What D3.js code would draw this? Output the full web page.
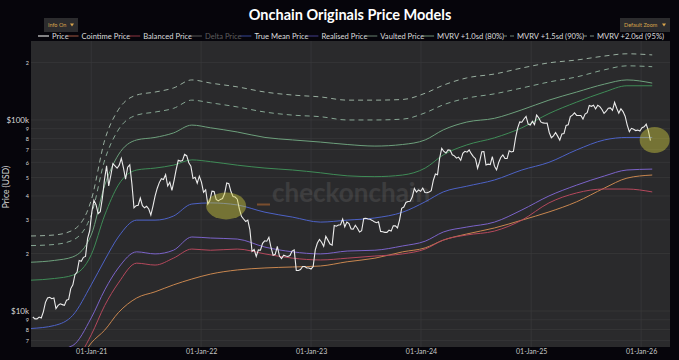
<!DOCTYPE html>
<html><head><meta charset="utf-8">
<script src="https://cdn.jsdelivr.net/npm/d3@7"></script>
<style>
html,body{margin:0;padding:0;background:#06050b;}
svg{display:block;font-family:Lato,"Open Sans",sans-serif;}
</style></head><body>
<svg id="chart" width="679" height="360"></svg>
<script>
// ---------- DATA ----------
const priceStart = "2020-06-21"; // weekly closes from this date
const priceValues = [
 9300,9100,9100,9300,9200,9900,11100,11700,11800,11600,11700,10300,10700,10900,10800,10700,11400,11500,13100,13700,15500,16000,18400,18200,19100,19300,24000,26300,
 33000,38000,36000,32300,33100,39000,48700,57500,45200,51200,59000,57500,55900,58000,63000,56200,49000,56600,58200,46400,34700,35600,35800,39000,35600,34700,35300,34200,31800,35400,39900,43800,47000,49300,48800,51700,45100,47200,42800,48200,54900,61500,60900,61300,66000,65000,59700,57200,49400,50100,46700,50800,
 47300,41800,43100,36300,37900,42400,42200,38400,37700,38400,38800,41200,46800,46400,42200,39700,39500,38500,34100,31300,30300,29400,29900,26600,20500,21000,19300,20900,20800,22600,23300,23200,24300,21500,19600,19800,21800,19400,18800,19600,19400,19300,19500,20600,20900,16300,16300,16500,17100,17100,16800,16800,
 16600,17100,20900,22700,23700,22900,21800,24600,23500,22400,22100,28000,27800,28200,28300,30300,27600,29200,28700,26900,26800,28100,27100,25900,26300,30500,30600,30300,30200,29800,29300,29000,29300,26100,26000,25800,25800,26500,26200,27900,27900,27200,30000,34500,35000,37000,37400,37500,39500,43800,41900,43000,42300,
 44000,41700,41600,42000,42600,48300,52100,51700,63100,71000,68400,67200,69700,69400,65700,64900,63100,63900,61500,66900,68500,67800,69600,66600,64300,62700,55900,60800,68200,68300,58100,58700,58400,64200,57300,54800,59900,63600,65600,62800,62800,69000,68000,68500,80400,90600,97700,97300,101200,104400,95200,94000,
 98300,94500,106100,102700,97700,96500,96100,96300,86000,80700,82600,86000,82300,78400,84500,85000,93700,94300,104100,106000,109000,105700,105600,105500,101000,107300,109200,119100,117900,119400,114200,119300,117500,113500,108200,111100,115300,115700,112200,123500,115200,108600,114500,110600,104700,94000,86800,90400,89400,88000,88500,87500,
 91000,92000,95000,88000,78000
];

const modelDates = ["2020-06-15","2020-09-01","2020-11-01","2021-01-01","2021-02-15","2021-04-01","2021-06-01","2021-08-01","2021-10-01","2021-12-01","2022-02-01","2022-05-01","2022-08-01","2022-11-01","2023-02-01","2023-05-01","2023-08-01","2023-11-01","2024-01-15","2024-03-15","2024-06-01","2024-09-01","2024-12-01","2025-03-01","2025-06-01","2025-09-01","2025-11-15","2026-02-07"];
const cointimePrice = [3500,4000,4800,6800,7950,9800,11700,12600,13700,14700,15600,16400,16800,17000,17200,18100,18900,20400,21400,23500,25300,27200,29900,33000,37300,44000,49600,51500];
const balancedPrice = [4000,4500,5200,7500,10700,14000,17800,17400,18900,21100,20800,21100,19900,18900,18500,18900,19400,19900,21100,23500,25000,26200,29900,36800,41500,43500,43500,42000];
const trueMeanPrice = [8100,8400,9500,13700,18500,24400,29900,29900,31400,36300,36800,35900,32900,31000,29200,29900,30700,32900,37300,42000,45000,48500,54700,60000,69700,78600,81000,81000];
const realisedPrice = [5900,6200,6600,9200,12900,16800,20400,19900,20800,24400,24100,23800,21600,20400,19900,20600,20800,21900,23200,25900,27500,29200,33800,40000,45600,50900,54700,55300];
const vaultedPrice = [14500,14800,15400,19700,31800,45600,54700,56000,58000,61800,60500,58000,56000,54700,52900,51000,50500,51500,56000,65600,74000,80600,91000,108000,124000,140000,151000,151000];
const mvrv10 = [18000,18400,19200,25000,45600,65600,78600,81000,85500,94000,91000,86500,81000,78600,76600,74400,73000,74400,78600,88700,97500,102000,113000,127000,140000,154000,162000,156000];
const mvrv15 = [22000,22300,23500,31800,61800,88700,106000,110000,115000,127000,123000,117000,110000,106000,104000,100000,100000,101000,109000,120000,130000,137000,147000,158000,168000,183000,192000,190000];
const mvrv20 = [24700,25000,26500,38000,78600,113000,135000,140000,147000,162000,156000,149000,140000,135000,132000,127000,127000,128000,138000,152000,166000,174000,187000,199000,206000,216000,222000,219000];

const legendNames = ["Price","Cointime Price","Balanced Price","Delta Price","True Mean Price","Realised Price","Vaulted Price","MVRV +1.0sd (80%)","MVRV +1.5sd (90%)","MVRV +2.0sd (95%)"];
const xTickDates = ["2021-01-01","2022-01-01","2023-01-01","2024-01-01","2025-01-01","2026-01-01"];
const yTickValues = [7000,8000,9000,10000,20000,30000,40000,50000,60000,70000,80000,90000,100000,200000];
const yTickLabels = ["7","8","9","$10k","2","3","4","5","6","7","8","9","$100k","2"];
const highlightDates = ["2022-03-25","2026-02-15"];
const highlightValues = [35500,78500];

// ---------- CHART ----------
const W = 679, H = 360;
const M = {left:31, right:670, top:41, bottom:347};
const svg = d3.select("#chart");
const parse = d3.utcParse("%Y-%m-%d");

const x = d3.scaleUtc().domain([Date.UTC(2020,5,15), Date.UTC(2026,3,7)]).range([M.left, M.right]);
const y = d3.scaleLog().domain([6480, 259000]).range([M.bottom, M.top]);

svg.append("rect").attr("width",W).attr("height",H).attr("fill","#06050b");
svg.append("rect").attr("x",M.left).attr("y",M.top).attr("width",M.right-M.left).attr("height",M.bottom-M.top).attr("fill","#2a2a2c");

svg.append("defs").append("clipPath").attr("id","clip")
  .append("rect").attr("x",M.left).attr("y",M.top).attr("width",M.right-M.left).attr("height",M.bottom-M.top);

// grid
const grid = svg.append("g");
grid.selectAll("line.h").data(yTickValues).join("line")
  .attr("x1",M.left).attr("x2",M.right).attr("y1",d=>y(d)).attr("y2",d=>y(d))
  .attr("stroke","#39393b").attr("stroke-width",0.7);
grid.selectAll("line.v").data(xTickDates.map(parse)).join("line")
  .attr("x1",d=>x(d)).attr("x2",d=>x(d)).attr("y1",M.top).attr("y2",M.bottom)
  .attr("stroke","#3a3a3c").attr("stroke-width",0.7);

// watermark
svg.append("text").attr("x",272).attr("y",202).text("checkonchain")
  .attr("font-size",26).attr("font-weight",700).attr("fill","#ffffff").attr("opacity",0.085);
svg.append("line").attr("x1",257).attr("x2",270).attr("y1",204.5).attr("y2",204.5)
  .attr("stroke","#7a4e2e").attr("stroke-width",2);

// axes
const yAxis = svg.append("g").attr("transform",`translate(${M.left},0)`)
  .call(d3.axisLeft(y).tickValues(yTickValues).tickFormat((d,i)=>yTickLabels[i]).tickSize(0).tickPadding(2));
yAxis.select(".domain").remove();
yAxis.selectAll("text").attr("fill","#d8d8d8")
  .attr("font-size",(d,i)=>yTickLabels[i].length>1?8:5.5)
  .attr("font-family","Lato, sans-serif");

const xAxis = svg.append("g").attr("transform",`translate(0,${M.bottom})`)
  .call(d3.axisBottom(x).tickValues(xTickDates.map(parse)).tickFormat(d3.utcFormat("%d-%b-%y")).tickSize(0).tickPadding(2.5));
xAxis.select(".domain").remove();
xAxis.selectAll("text").attr("fill","#c8c8c8").attr("font-size",7).attr("font-family","Lato, sans-serif");

svg.append("text").attr("transform","translate(9,187) rotate(-90)").attr("text-anchor","middle")
  .attr("font-size",8.5).attr("fill","#d8d8d8").text("Price (USD)");

// series
const md = modelDates.map(parse);
const models = [
  {vals:cointimePrice, color:"#c8864f", dash:null},
  {vals:balancedPrice, color:"#b5485c", dash:null},
  {vals:realisedPrice, color:"#7b63c9", dash:null},
  {vals:trueMeanPrice, color:"#4d62c6", dash:null},
  {vals:vaultedPrice, color:"#3f8c57", dash:null},
  {vals:mvrv10, color:"#6da07c", dash:null},
  {vals:mvrv15, color:"#86a693", dash:"5,4"},
  {vals:mvrv20, color:"#98ae9f", dash:"5,4"}
];
const plot = svg.append("g").attr("clip-path","url(#clip)");
const line = d3.line().x(d=>x(d[0])).y(d=>y(d[1])).curve(d3.curveMonotoneX);
models.forEach(m=>{
  plot.append("path").datum(md.map((d,i)=>[d,m.vals[i]]))
    .attr("d",line).attr("fill","none").attr("stroke",m.color).attr("stroke-width",1)
    .attr("stroke-dasharray",m.dash);
});
const p0 = parse(priceStart);
const priceData = priceValues.map((v,i)=>[d3.utcDay.offset(p0,7*i), v]);
plot.append("path").datum(priceData)
  .attr("d",d3.line().x(d=>x(d[0])).y(d=>y(d[1])))
  .attr("fill","none").attr("stroke","#ececec").attr("stroke-width",1.1);

// highlights
plot.selectAll("ellipse").data(highlightDates.map((d,i)=>[parse(d),highlightValues[i]])).join("ellipse")
  .attr("cx",d=>x(d[0])).attr("cy",d=>y(d[1]))
  .attr("rx",(d,i)=>i===0?20:15).attr("ry",(d,i)=>i===0?13.5:13)
  .attr("fill","#d0cc40").attr("opacity",0.45);

// title
svg.append("text").attr("x",350).attr("y",20).attr("text-anchor","middle")
  .attr("font-size",14.5).attr("font-weight",700).attr("fill","#ffffff")
  .text("Onchain Originals Price Models");

// buttons
function button(x0,w,label){
  svg.append("rect").attr("x",x0).attr("y",18).attr("width",w).attr("height",14).attr("fill","#2c2c2e");
  svg.append("text").attr("x",x0+4).attr("y",27).attr("font-size",5.5).attr("fill","#d8a44c").text(label);
  svg.append("path").attr("d",`M${x0+w-8},23.5 l4,0 l-2,3 z`).attr("fill","#d8a44c");
}
button(44,34,"Info On");
button(620,50,"Default Zoom");

// legend
const legColors = ["#d8d8d8","#8a4a3a","#7a2e3a","#4a4a4a","#2e3c80","#3a3478","#5a6e60","#5e7a66","#6e8676","#7e9486"];
const legDash = [null,null,null,null,null,null,null,null,"4,3","4,3"];
const leg = svg.append("g");
const items = leg.selectAll("g").data(legendNames).join("g");
items.append("line").attr("x1",0).attr("x2",11).attr("y1",36).attr("y2",36)
  .attr("stroke",(d,i)=>legColors[i]).attr("stroke-width",1.2).attr("stroke-dasharray",(d,i)=>legDash[i]);
items.append("text").attr("x",14).attr("y",36).attr("dy","0.35em").attr("font-size",7.6)
  .attr("fill",(d,i)=>i===3?"#5e5e5e":"#dcdcdc").text(d=>d);
const widths = items.nodes().map(n=>14 + n.querySelector("text").getComputedTextLength());
const total = d3.sum(widths);
const gap = (664 - 38 - total)/(legendNames.length-1);
let cx = 38;
items.each(function(d,i){ d3.select(this).attr("transform",`translate(${cx},0)`); cx += widths[i]+gap; });
</script>
</body></html>
